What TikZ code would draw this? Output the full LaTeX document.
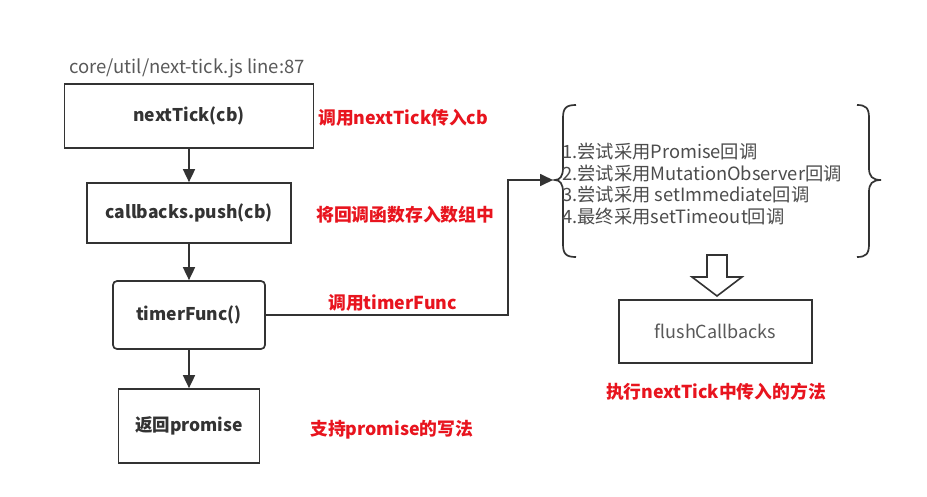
\documentclass[tikz,border=0pt]{standalone}
\usepackage{fontspec}
\setmainfont{Noto Sans CJK SC}
\usetikzlibrary{arrows.meta}
\definecolor{ink}{HTML}{333333}
\definecolor{lbl}{HTML}{E8141E}
\begin{document}
\begin{tikzpicture}[x=1pt,y=-1pt,
  box/.style={draw=ink, line width=1.7pt, inner sep=0pt, text=ink,
    font=\bfseries\fontsize{17.5}{20}\selectfont},
  arr/.style={draw=ink, line width=1.7pt, -{Triangle[width=12pt,length=13pt]}},
  note/.style={text=lbl, font=\bfseries\fontsize{17.8}{20}\selectfont, anchor=west, inner sep=0pt},
]
\useasboundingbox[fill=white] (0,0) rectangle (927,496);

\node[anchor=west, inner sep=0pt, text=black!65, font=\fontsize{18.5}{20}\selectfont] (title) at (69,68) {core/util/next-tick.js line:87};

\node[box, minimum width=249pt, minimum height=64pt] (b1) at (189,116) {nextTick(cb)};
\node[box, minimum width=204pt, minimum height=60pt] (b2) at (189,213) {callbacks.push(cb)};
\node[box, minimum width=152pt, minimum height=68pt, rounded corners=4pt] (b3) at (189,315) {timerFunc()};
\node[box, minimum width=141pt, minimum height=74pt] (b4) at (189,426) {返回promise};

\draw[arr] (b1) -- (b2);
\draw[arr] (b2) -- (b3);
\draw[arr] (b3) -- (b4);

\node[note] (n1) at (318,118) {调用nextTick传入cb};
\node[note] (n2) at (316,215) {将回调函数存入数组中};
\node[note] (n3) at (328,303) {调用timerFunc};
\node[note] (n4) at (310,430) {支持promise的写法};

% brace group
\coordinate (tip) at (553,180);
\draw[ink, line width=1.7pt] (576,105) .. controls (566,105) and (563,108) .. (563,118)
  -- (563,168) .. controls (563,176) and (560,180) .. (555,180)
  .. controls (560,180) and (563,184) .. (563,192)
  -- (563,244) .. controls (563,254) and (566,257) .. (576,257);
\draw[ink, line width=1.7pt] (857,105) .. controls (866,105) and (869,108) .. (869,118)
  -- (869,168) .. controls (869,176) and (872,180) .. (881,180)
  .. controls (872,180) and (869,184) .. (869,192)
  -- (869,244) .. controls (869,254) and (866,257) .. (857,257);

\node[anchor=west, align=left, inner sep=0pt, text=black!70, font=\fontsize{18.3}{21.8}\selectfont] (list) at (562,184)
 {1.尝试采用Promise回调\\2.尝试采用MutationObserver回调\\3.尝试采用 setImmediate回调\\4.最终采用setTimeout回调};

\draw[arr] (b3.east) -- (508,315) -- (508,180) -- (tip);

% hollow arrow
\draw[ink, line width=1.6pt, line join=miter] (707,255) -- (727,255) -- (727,277) -- (742,277) -- (717,296) -- (692,277) -- (707,277) -- cycle;

\node[box, minimum width=193pt, minimum height=63pt, font=\fontsize{18}{20}\selectfont, text=black!65] (fl) at (715.5,331.5) {flushCallbacks};
\node[note, anchor=center] (n5) at (716,392) {执行nextTick中传入的方法};
\end{tikzpicture}
\end{document}
